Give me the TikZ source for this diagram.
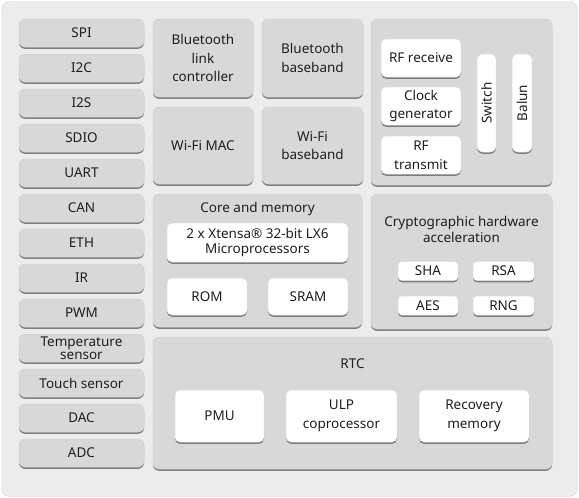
\documentclass[tikz,border=0pt]{standalone}
\usepackage{fontspec}
\setmainfont{Noto Sans}
\usetikzlibrary{shadows}
\definecolor{bgc}{HTML}{ECECEC}
\definecolor{boxc}{HTML}{D8D8D8}
\definecolor{txtc}{HTML}{1E1E1E}
\tikzset{
  x=1pt, y=-1pt,
  sh/.style={drop shadow={shadow xshift=0pt, shadow yshift=-1.8pt, fill=black!55, opacity=0.9}},
  graybox/.style={sh, fill=boxc, draw=black!18, line width=0.5pt, rounded corners=6pt, inner sep=1pt,
     align=center, text=txtc, font=\fontsize{13.5}{18.5}\selectfont},
  whitebox/.style={sh, fill=white, draw=black!12, line width=0.5pt, rounded corners=5pt, inner sep=1pt,
     align=center, text=txtc, font=\fontsize{13.5}{18.5}\selectfont},
  lbl/.style={text=txtc, align=center, font=\fontsize{13.5}{18.5}\selectfont},
}
\begin{document}
\begin{tikzpicture}
\useasboundingbox (0,0) rectangle (579,498);
\fill[white] (0,0) rectangle (579,498);
\node[fill=bgc, draw=black!15, rounded corners=8pt, minimum width=576pt, minimum height=495pt, inner sep=0pt] (bg) at (289.5,249) {};
% left column
\foreach \t [count=\i from 0] in {SPI,I2C,I2S,SDIO,UART,CAN,ETH,IR,PWM,{Temperature\\[-5.5pt]sensor},Touch sensor,DAC,ADC}
  \node[graybox, minimum width=125pt, minimum height=28pt] (l\i) at (81.5,{33+35*\i}) {\t};
% wireless
\node[graybox, minimum width=100pt, minimum height=78pt] (btlc) at (203,58) {Bluetooth\\link\\controller};
\node[graybox, minimum width=100pt, minimum height=77pt] (wmac) at (203,145.5) {Wi-Fi MAC};
\node[graybox, minimum width=101pt, minimum height=78pt] (btbb) at (312.5,58) {Bluetooth\\baseband};
\node[graybox, minimum width=101pt, minimum height=77pt] (wbb) at (312.5,145.5) {Wi-Fi\\baseband};
% RF
\node[graybox, minimum width=181pt, minimum height=166pt] (rf) at (461.5,102) {};
\node[whitebox, minimum width=80pt, minimum height=38pt] (rfr) at (421,58) {RF receive};
\node[whitebox, minimum width=80pt, minimum height=38pt] (clk) at (421,106) {Clock\\generator};
\node[whitebox, minimum width=80pt, minimum height=38pt] (rft) at (421,155) {RF\\transmit};
\node[whitebox, minimum width=19pt, minimum height=98pt, rounded corners=6pt] (sw) at (486.5,103) {};
\node[lbl, rotate=90] (swt) at (sw.center) {Switch};
\node[whitebox, minimum width=20pt, minimum height=98pt, rounded corners=6pt] (bal) at (522,103) {};
\node[lbl, rotate=90] (balt) at (bal.center) {Balun};
% core
\node[graybox, minimum width=209pt, minimum height=133pt] (core) at (257.5,260.5) {};
\node[lbl] (coret) at (257.5,209) {Core and memory};
\node[whitebox, minimum width=181pt, minimum height=39pt] (cpu) at (257.5,242.5) {2 x Xtensa® 32-bit LX6\\[-3.5pt]Microprocessors};
\node[whitebox, minimum width=80pt, minimum height=37pt] (rom) at (207,296.5) {ROM};
\node[whitebox, minimum width=80pt, minimum height=37pt] (sram) at (308,296.5) {SRAM};
% crypto
\node[graybox, minimum width=181pt, minimum height=135pt] (cry) at (461.5,261.5) {};
\node[lbl] (cryt) at (461.5,229.5) {Cryptographic hardware\\[-2.5pt]acceleration};
\node[whitebox, minimum width=60pt, minimum height=19pt, rounded corners=4pt] (sha) at (428,271) {SHA};
\node[whitebox, minimum width=61pt, minimum height=19pt, rounded corners=4pt] (rsa) at (503.5,271) {RSA};
\node[whitebox, minimum width=60pt, minimum height=19pt, rounded corners=4pt] (aes) at (428,305.5) {AES};
\node[whitebox, minimum width=61pt, minimum height=19pt, rounded corners=4pt] (rng) at (503.5,305.5) {RNG};
% RTC
\node[graybox, minimum width=399pt, minimum height=132pt] (rtc) at (352.5,403) {};
\node[lbl] (rtct) at (352.5,364) {RTC};
\node[whitebox, minimum width=89pt, minimum height=52pt] (pmu) at (219.5,416) {PMU};
\node[whitebox, minimum width=111pt, minimum height=52pt] (ulp) at (341.5,416) {ULP\\coprocessor};
\node[whitebox, minimum width=110pt, minimum height=52pt] (rec) at (474,416) {Recovery\\memory};
\end{tikzpicture}
\end{document}
